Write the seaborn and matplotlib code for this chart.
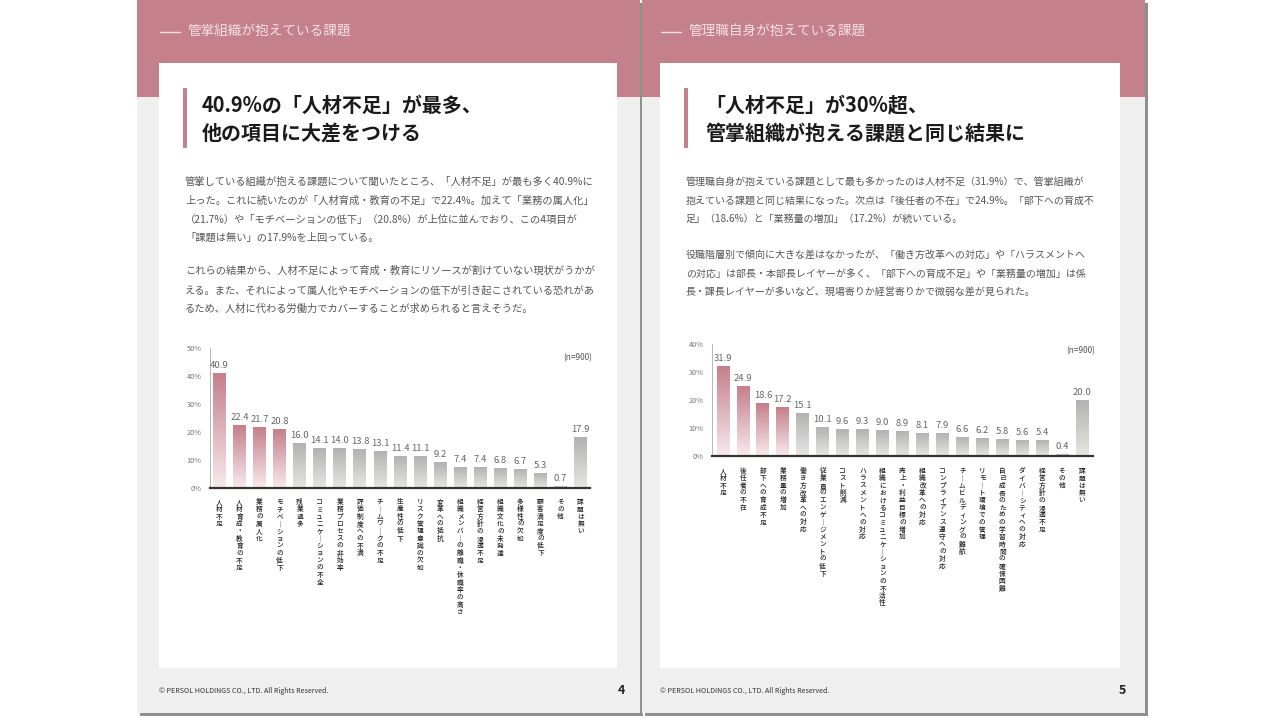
import numpy as np
import pandas as pd
import matplotlib
matplotlib.use("Agg")
import matplotlib.pyplot as plt
import seaborn as sns
from matplotlib.patches import Rectangle
from matplotlib.colors import LinearSegmentedColormap
from matplotlib.transforms import blended_transform_factory

sns.set_theme(style="white")
plt.rcParams["font.family"] = ["Noto Sans CJK JP", "DejaVu Sans"]

# ---------------- data ----------------
left_categories = [
    "人材不足", "人材育成・教育の不足", "業務の属人化", "モチベーションの低下", "残業過多",
    "コミュニケーションの不全", "業務プロセスの非効率", "評価制度への不満", "チームワークの不足",
    "生産性の低下", "リスク管理意識の欠如", "変革への抵抗", "組織メンバーの離職・休職率の高さ",
    "経営方針の浸透不足", "組織文化の未発達", "多様性の欠如", "顧客満足度の低下", "その他", "課題は無い",
]
left_values = [40.9, 22.4, 21.7, 20.8, 16.0, 14.1, 14.0, 13.8, 13.1, 11.4, 11.1, 9.2, 7.4, 7.4,
               6.8, 6.7, 5.3, 0.7, 17.9]

right_categories = [
    "人材不足", "後任者の不在", "部下への育成不足", "業務量の増加", "働き方改革への対応",
    "従業員のエンゲージメントの低下", "コスト削減", "ハラスメントへの対応",
    "組織におけるコミュニケーションの不活性", "売上・利益目標の増加", "組織改革への対応",
    "コンプライアンス遵守への対応", "チームビルディングの難航", "リモート環境での管理",
    "自己成長のための学習時間の確保困難", "ダイバーシティへの対応", "経営方針の浸透不足", "その他", "課題は無い",
]
right_values = [31.9, 24.9, 18.6, 17.2, 15.1, 10.1, 9.6, 9.3, 9.0, 8.9, 8.1, 7.9, 6.6, 6.2,
                5.8, 5.6, 5.4, 0.4, 20.0]

highlight_count = 4
left_yticks = [0, 10, 20, 30, 40, 50]
right_yticks = [0, 10, 20, 30, 40]

left_header = "管掌組織が抱えている課題"
right_header = "管理職自身が抱えている課題"
left_title = ["40.9%の「人材不足」が最多、", "他の項目に大差をつける"]
right_title = ["「人材不足」が30%超、", "管掌組織が抱える課題と同じ結果に"]
left_body = [
    "管掌している組織が抱える課題について聞いたところ、「人材不足」が最も多く40.9%に",
    "上った。これに続いたのが「人材育成・教育の不足」で22.4%。加えて「業務の属人化」",
    "（21.7%）や「モチベーションの低下」（20.8%）が上位に並んでおり、この4項目が",
    "「課題は無い」の17.9%を上回っている。",
    "これらの結果から、人材不足によって育成・教育にリソースが割けていない現状がうかが",
    "える。また、それによって属人化やモチベーションの低下が引き起こされている恐れがあ",
    "るため、人材に代わる労働力でカバーすることが求められると言えそうだ。",
]
right_body = [
    "管理職自身が抱えている課題として最も多かったのは人材不足（31.9%）で、管掌組織が",
    "抱えている課題と同じ結果になった。次点は「後任者の不在」で24.9%。「部下への育成不",
    "足」（18.6%）と「業務量の増加」（17.2%）が続いている。",
    "役職階層別で傾向に大きな差はなかったが、「働き方改革への対応」や「ハラスメントへ",
    "の対応」は部長・本部長レイヤーが多く、「部下への育成不足」や「業務量の増加」は係",
    "長・課長レイヤーが多いなど、現場寄りか経営寄りかで微弱な差が見られた。",
]
footer = "© PERSOL HOLDINGS CO., LTD. All Rights Reserved."

# ---------------- style ----------------
PINK = "#c5818b"
PINK_TOP, PINK_BOT = "#c47f8a", "#f8eaee"
GRAY_TOP, GRAY_BOT = "#b2b2b2", "#e6e6e2"
W, H = 1280, 720

fig = plt.figure(figsize=(12.8, 7.2), dpi=100)
fig.patch.set_facecolor("white")
bg = fig.add_axes([0, 0, 1, 1], zorder=0)
bg.set_xlim(0, W)
bg.set_ylim(H, 0)
bg.axis("off")


def draw_page(x0, card_x, card_w, header, title, body, body_y, page_no, title_x, body_fs):
    bg.add_patch(Rectangle((x0 + 3, 3), 503, 713, fc="#8f8f8f", ec="none"))
    bg.add_patch(Rectangle((x0, 0), 503, 713, fc="#efefef", ec="none"))
    bg.add_patch(Rectangle((x0, 0), 503, 97, fc=PINK, ec="none"))
    bg.add_patch(Rectangle((card_x, 63), card_w, 605, fc="white", ec="none"))
    # header
    bg.plot([card_x + 1, card_x + 21], [32, 32], color="#f3e0e3", lw=1.0)
    bg.text(card_x + 28, 32, header, color="#f3e0e3", fontsize=9.8, va="center", ha="left")
    # title accent and text
    bg.add_patch(Rectangle((card_x + 24, 88), 3.5, 60, fc=PINK, ec="none"))
    bg.text(title_x, 105, title[0], fontsize=14.4, fontweight="bold", color="#1a1a1a", va="center")
    bg.text(title_x, 133, title[1], fontsize=14.4, fontweight="bold", color="#1a1a1a", va="center")
    for line, yy in zip(body, body_y):
        bg.text(card_x + 26, yy, line, fontsize=body_fs, color="#555555", va="center")
    bg.text(card_x, 691, footer, fontsize=5.1, color="#333333", va="center")
    bg.text(card_x + 466, 690, str(page_no),
            fontsize=9, fontweight="bold", color="#222222", va="center", ha="right")


draw_page(137, 159, 458, left_header, left_title, left_body,
          [182, 201, 220, 238, 271, 290, 309], 4, 202, 7.4)
draw_page(642, 660, 460, right_header, right_title, right_body,
          [182, 201, 219, 255, 274, 293], 5, 705, 7.2)


def draw_chart(rect_px, cats, vals, yticks, xlim, n_pos, label_top):
    l, t, r, b = rect_px
    ax = fig.add_axes([l / W, 1 - b / H, (r - l) / W, (b - t) / H], zorder=2)
    ax.set_facecolor("none")
    df = pd.DataFrame({"cat": cats, "val": vals})
    tops = [PINK_TOP if i < highlight_count else GRAY_TOP for i in range(len(cats))]
    bots = [PINK_BOT if i < highlight_count else GRAY_BOT for i in range(len(cats))]
    sns.barplot(data=df, x="cat", y="val", hue="cat", palette=tops, legend=False,
                width=0.64, ax=ax, saturation=1)
    patches = sorted([p for p in ax.patches], key=lambda p: p.get_x())
    grad = np.linspace(0, 1, 256).reshape(-1, 1)
    for p, top, bot in zip(patches, tops, bots):
        x, y, w, h = p.get_x(), p.get_y(), p.get_width(), p.get_height()
        cmap = LinearSegmentedColormap.from_list("g", [bot, top])
        ax.imshow(grad, extent=[x, x + w, y, y + h], origin="lower", cmap=cmap,
                  aspect="auto", zorder=2, interpolation="bicubic")
        p.set_alpha(0)
    for c in ax.containers:
        ax.bar_label(c, fmt="%.1f", padding=2.5, fontsize=6.8, color="#666666")
    ax.set_xlim(*xlim)
    ax.set_ylim(yticks[0], yticks[-1])
    ax.set_yticks(yticks)
    ax.set_yticklabels([f"{v}%" for v in yticks], fontsize=5.3, color="#777777")
    ax.set_xticks(range(len(cats)))
    ax.set_xticklabels([""] * len(cats))
    # vertical (tategaki) category labels, one glyph per step below each tick
    tr = blended_transform_factory(ax.transData, bg.transData)
    step = 7.35
    for i, cat in enumerate(cats):
        for j, ch in enumerate(cat):
            glyph = "｜" if ch == "ー" else ch
            ax.text(i, label_top + j * step, glyph, transform=tr, ha="center", va="center",
                    fontsize=4.8, color="#222222", fontweight="medium", clip_on=False)
    ax.tick_params(axis="both", length=0)
    ax.tick_params(axis="y", pad=6)
    ax.set_xlabel("")
    ax.set_ylabel("")
    for s in ["top", "right"]:
        ax.spines[s].set_visible(False)
    ax.spines["left"].set_color("#aaaaaa")
    ax.spines["left"].set_linewidth(0.6)
    ax.spines["bottom"].set_color("#333333")
    ax.spines["bottom"].set_linewidth(1.6)
    ax.grid(False)
    ax.text(1.005, n_pos, "(n=900)", transform=ax.transAxes, ha="right", va="center",
            fontsize=6, color="#555555")
    return ax


draw_chart((210, 348, 590, 488), left_categories, left_values, left_yticks,
           (-0.47, 18.47), 0.93, 502)
draw_chart((712, 344, 1093, 456), right_categories, right_values, right_yticks,
           (-0.55, 18.55), 0.94, 471)

fig.savefig("out.png", dpi=100, facecolor="white")
